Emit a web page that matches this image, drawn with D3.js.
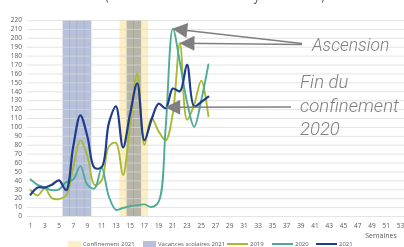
<!DOCTYPE html>
<html>
<head>
<meta charset="utf-8">
<script src="https://cdn.jsdelivr.net/npm/d3@7"></script>
<style>
  html, body { margin: 0; padding: 0; background: #fff; overflow: hidden; }
</style>
</head>
<body>
<div id="chart"></div>
<script>
// Categories: weeks of the year
const weeks = d3.range(1, 54);
const tickWeeks = weeks.filter(w => w % 2 === 1);
const yTicks = d3.range(0, 221, 10);

// Series values, weeks 1..26
const s2019 = [29, 23, 31, 20, 19, 23, 55, 85, 67, 35, 40, 78, 82, 46, 104, 160, 80, 110, 95, 85, 115, 194, 108, 125, 152, 112];
const s2020 = [41, 35, 32, 29, 30, 38, 41, 56, 35, 31, 54, 22, 7, 9, 11, 12, 13, 10, 16, 100, 210, 172, 128, 100, 130, 170];
const s2021 = [24, 32, 32, 35, 40, 29, 78, 113, 89, 54, 55, 104, 123, 77, 115, 149, 85, 108, 126, 121, 143, 140, 170, 123, 128, 134];

// Shaded periods (weeks)
const confinement = [14, 15, 16, 17];
const vacances = [6, 7, 8, 9, 15, 16];

const series = [
  {name: "2019", values: s2019, color: "#a8b934"},
  {name: "2020", values: s2020, color: "#4eab99"},
  {name: "2021", values: s2021, color: "#1f3b8c"}
];

const width = 404;
const height = 247;
const marginTop = 20;
const marginRight = 0;
const marginBottom = 31;
const marginLeft = 27;

const x = d3.scaleBand()
    .domain(weeks)
    .range([marginLeft, width - marginRight])
    .padding(0);

const y = d3.scaleLinear()
    .domain([0, 220])
    .range([height - marginBottom, marginTop]);

const cx = w => x(w) + x.bandwidth() / 2;

const svg = d3.select("#chart").append("svg")
    .attr("width", width)
    .attr("height", height)
    .attr("viewBox", [0, 0, width, height])
    .attr("font-family", "'Open Sans', 'Noto Sans', sans-serif");

// Title, mostly cut off by the top edge
svg.append("text")
    .attr("x", 105)
    .attr("y", 0)
    .attr("font-size", 16)
    .attr("fill", "#595959")
    .attr("textLength", 220)
    .attr("lengthAdjust", "spacingAndGlyphs")
    .text("(indice 100 = semaine moyenne 2019)");

// Shaded bands
svg.append("g")
  .selectAll("rect")
  .data(confinement)
  .join("rect")
    .attr("x", d => x(d))
    .attr("y", y(220))
    .attr("width", x.bandwidth() + 0.3)
    .attr("height", y(0) - y(220))
    .attr("fill", "#fcefc4");

svg.append("g")
  .selectAll("rect")
  .data(vacances)
  .join("rect")
    .attr("x", d => x(d))
    .attr("y", y(220))
    .attr("width", x.bandwidth() + 0.3)
    .attr("height", y(0) - y(220))
    .attr("fill", "#b8c1da")
    .style("mix-blend-mode", "multiply");

// Gridlines
svg.append("g")
  .selectAll("line")
  .data(yTicks)
  .join("line")
    .attr("x1", marginLeft)
    .attr("x2", width)
    .attr("y1", d => y(d) + 0.5)
    .attr("y2", d => y(d) + 0.5)
    .attr("stroke", "#d9d9d9")
    .attr("stroke-opacity", 0.7)
    .attr("stroke-width", 1);

// Y axis labels
svg.append("g")
    .attr("font-size", 6.5)
    .attr("fill", "#595959")
    .attr("text-anchor", "end")
  .selectAll("text")
  .data(yTicks)
  .join("text")
    .attr("x", 22)
    .attr("y", d => y(d))
    .attr("dy", "0.35em")
    .text(d => d);

// X axis labels
svg.append("g")
    .attr("font-size", 6.5)
    .attr("fill", "#595959")
    .attr("text-anchor", "middle")
  .selectAll("text")
  .data(tickWeeks)
  .join("text")
    .attr("x", d => cx(d))
    .attr("y", 228)
    .text(d => d);

svg.append("text")
    .attr("x", 381)
    .attr("y", 238)
    .attr("font-size", 7)
    .attr("fill", "#595959")
    .attr("text-anchor", "middle")
    .text("Semaines");

// Lines
const line = d3.line()
    .curve(d3.curveCatmullRom.alpha(0.5))
    .x((d, i) => cx(weeks[i]))
    .y(d => y(d));

svg.append("g")
    .attr("fill", "none")
    .attr("stroke-linejoin", "round")
    .attr("stroke-linecap", "round")
  .selectAll("path")
  .data(series)
  .join("path")
    .attr("stroke", d => d.color)
    .attr("stroke-width", d => d.name === "2021" ? 2.2 : 1.9)
    .attr("d", d => line(d.values));

// Annotation arrows
const arrowColor = "#7f7f7f";
svg.append("defs").append("marker")
    .attr("id", "head")
    .attr("viewBox", "0 0 10 10")
    .attr("refX", 9)
    .attr("refY", 5)
    .attr("markerUnits", "userSpaceOnUse")
    .attr("markerWidth", 17)
    .attr("markerHeight", 15)
    .attr("orient", "auto")
  .append("path")
    .attr("d", "M0,0L10,5L0,10Z")
    .attr("fill", arrowColor);

const arrows = [
  {from: [302, 43.5], week: 21, value: s2020[20]},
  {from: [302, 44.5], week: 22, value: s2019[21]},
  {from: [291, 107], week: 20, value: 122}
];

svg.append("g")
  .selectAll("line")
  .data(arrows)
  .join("line")
    .attr("x1", d => d.from[0])
    .attr("y1", d => d.from[1])
    .attr("x2", d => cx(d.week) + 1)
    .attr("y2", d => y(d.value))
    .attr("stroke", arrowColor)
    .attr("stroke-width", 1.5)
    .attr("marker-end", "url(#head)");

const note = svg.append("g")
    .attr("font-family", "Roboto, 'Open Sans', sans-serif")
    .attr("font-style", "italic")
    .attr("font-weight", 300)
    .attr("fill", "#7f7f7f");

note.append("text")
    .attr("x", 312)
    .attr("y", 51)
    .attr("font-size", 17.5)
    .text("Ascension");

note.append("text")
    .attr("x", 300)
    .attr("font-size", 18.5)
  .selectAll("tspan")
  .data(["Fin du", "confinement", "2020"])
  .join("tspan")
    .attr("x", 300)
    .attr("y", (d, i) => 88 + i * 23.5)
    .text(d => d);

// Legend
const legend = [
  {label: "Confinement 2021", type: "rect", color: "#fcefc4", x: 68},
  {label: "Vacances scolaires 2021", type: "rect", color: "#b8c1da", x: 143},
  ...series.map((s, i) => ({label: s.name, type: "line", color: s.color, x: [227, 272, 316][i]}))
];

const lg = svg.append("g")
    .attr("font-size", 6)
    .attr("fill", "#595959");

lg.selectAll("rect")
  .data(legend.filter(d => d.type === "rect"))
  .join("rect")
    .attr("x", d => d.x)
    .attr("y", 241)
    .attr("width", 13)
    .attr("height", 7)
    .attr("fill", d => d.color);

lg.selectAll("line")
  .data(legend.filter(d => d.type === "line"))
  .join("line")
    .attr("x1", d => d.x)
    .attr("x2", d => d.x + 21)
    .attr("y1", 244)
    .attr("y2", 244)
    .attr("stroke", d => d.color)
    .attr("stroke-width", 2);

lg.selectAll("text")
  .data(legend)
  .join("text")
    .attr("x", d => d.x + (d.type === "rect" ? 15 : 23))
    .attr("y", 244)
    .attr("dy", "0.35em")
    .text(d => d.label);
</script>
</body>
</html>
